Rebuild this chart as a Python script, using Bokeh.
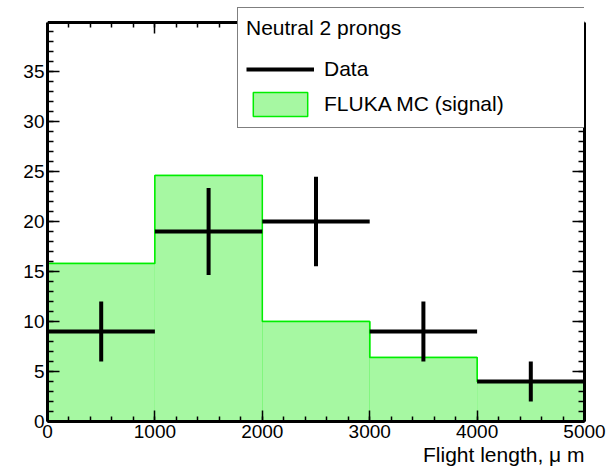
from bokeh.plotting import figure
from bokeh.models import (Range1d, LinearAxis, SingleIntervalTicker, Legend, LegendItem,
                          Title, ColumnDataSource, CustomLabelingPolicy)
from bokeh.embed import file_html
from bokeh.resources import INLINE

# ---- data ----
bin_edges = [0, 1000, 2000, 3000, 4000, 5000]
data_counts = [9, 19, 20, 9, 4]
data_errors = [3.0, 4.36, 4.47, 3.0, 2.0]
mc_counts = [15.8, 24.6, 10.0, 6.4, 4.0]

y_top = 39.9          # top of the histogram frame
y_canvas_top = 41.5   # extra room so the legend can sit above the frame

x_label = "Flight length, \u03bc m"
legend_title = "Neutral 2 prongs"
data_label = "Data"
mc_label = "FLUKA MC (signal)"

FONT = "Liberation Sans"
FILL = "#a6f8a2"
EDGE = "#00ee00"

lows = bin_edges[:-1]
highs = bin_edges[1:]
centers = [(a + b) / 2 for a, b in zip(lows, highs)]

p = figure(width=610, height=469, output_backend="svg", toolbar_location=None,
           x_range=Range1d(0, 5000), y_range=Range1d(0, y_canvas_top),
           x_axis_type=None, y_axis_type=None,
           min_border_left=47, min_border_right=26, min_border_top=6, min_border_bottom=48)
p.background_fill_color = "white"
p.border_fill_color = "white"
p.outline_line_color = None
p.xgrid.visible = False
p.ygrid.visible = False

# MC histogram: outlined copy underneath (used for the legend box), plain fill on top, step outline
mc_src = ColumnDataSource(dict(left=lows, right=highs, top=mc_counts, bottom=[0] * len(mc_counts)))
mc_legend_r = p.quad(left="left", right="right", top="top", bottom="bottom", source=mc_src,
                     fill_color=FILL, line_color=EDGE, line_width=1.5)
p.quad(left="left", right="right", top="top", bottom="bottom", source=mc_src,
       fill_color=FILL, line_color=None)
p.step(x=bin_edges, y=mc_counts + [mc_counts[-1]], mode="after", line_color=EDGE, line_width=1.5)

# Data with error bars
d_src = ColumnDataSource(dict(
    x0=lows, x1=highs, y=data_counts,
    xc=centers, ylo=[v - e for v, e in zip(data_counts, data_errors)],
    yhi=[v + e for v, e in zip(data_counts, data_errors)]))
hbar = p.segment(x0="x0", y0="y", x1="x1", y1="y", source=d_src, line_color="black",
                 line_width=4, line_cap="butt")
p.segment(x0="xc", y0="ylo", x1="xc", y1="yhi", source=d_src, line_color="black",
          line_width=4, line_cap="butt")

no_labels = CustomLabelingPolicy(code="""
const all = [...indices]
for (const i of all) { indices.unset(i) }
return indices
""")


def style_axis(ax, interval, major_in, minor_in, show_labels):
    ax.ticker = SingleIntervalTicker(interval=interval, num_minor_ticks=5)
    ax.major_tick_in = major_in
    ax.major_tick_out = 0
    ax.minor_tick_in = minor_in
    ax.minor_tick_out = 0
    ax.major_tick_line_color = "black"
    ax.minor_tick_line_color = "black"
    ax.major_tick_line_width = 1.5
    ax.minor_tick_line_width = 1.5
    ax.axis_line_color = "black"
    ax.axis_line_width = 3
    ax.major_label_text_font = FONT
    ax.major_label_text_color = "black"
    if show_labels:
        ax.major_label_text_font_size = "19px"
        ax.major_label_standoff = 3
    else:
        ax.major_label_text_font_size = "1px"
        ax.major_label_standoff = 0
        ax.major_label_policy = no_labels


bottom = LinearAxis(bounds=(0, 5000))
style_axis(bottom, 1000, 11, 5, True)
left = LinearAxis(bounds=(0, y_top))
style_axis(left, 5, 12, 6, True)
top = LinearAxis(bounds=(0, 5000), fixed_location=y_top)
style_axis(top, 1000, 11, 5, False)
right = LinearAxis(bounds=(0, y_top))
style_axis(right, 5, 12, 6, False)
p.add_layout(bottom, "below")
p.add_layout(left, "left")
p.add_layout(top, "above")
p.add_layout(right, "right")

p.add_layout(Title(text=x_label, align="right", text_font=FONT, text_font_size="21px",
                   text_font_style="normal", text_color="black", standoff=0, offset=0), "below")

legend = Legend(items=[LegendItem(label=data_label, renderers=[hbar]),
                       LegendItem(label=mc_label, renderers=[mc_legend_r])],
                location=(190, 293), title=legend_title,
                title_text_font=FONT, title_text_font_size="21px", title_text_font_style="normal",
                title_text_color="black", title_standoff=14,
                label_text_font=FONT, label_text_font_size="21px", label_text_color="black",
                glyph_width=68, glyph_height=30, label_standoff=10, label_width=252,
                spacing=5, padding=8, margin=0,
                border_line_color="black", border_line_width=1,
                background_fill_color="white", background_fill_alpha=1.0)
p.add_layout(legend, "center")

open("out.html", "w").write(file_html(p, INLINE))
